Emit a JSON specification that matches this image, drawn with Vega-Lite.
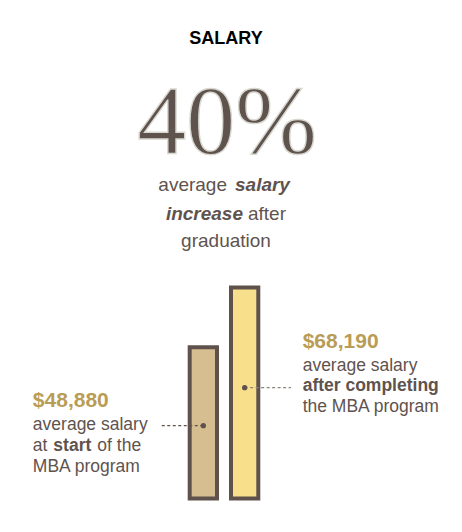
{
  "$schema": "https://vega.github.io/schema/vega-lite/v6.json",
  "width": 456,
  "height": 531,
  "autosize": {"type": "none"},
  "padding": {"left": 6, "top": 1, "right": 0, "bottom": 0},
  "background": "#ffffff",
  "config": {
    "view": {"fill": "#d8d7d0", "stroke": null},
    "text": {"font": "Liberation Sans", "color": "#5f534e"}
  },
  "layer": [
    {
      "data": {"values": [
        {"stage": "Start of MBA", "salary": 48880},
        {"stage": "After MBA", "salary": 68190}
      ]},
      "encoding": {
        "x": {"field": "stage", "type": "nominal", "sort": ["Start of MBA", "After MBA"], "bandPosition": 0.5,
              "scale": {"range": [183.7, 252.3], "paddingInner": 0.339, "paddingOuter": 0}, "axis": null},
        "y": {"field": "salary", "type": "quantitative",
              "scale": {"domain": [-10820, 160693], "nice": false, "zero": false}, "axis": null}
      },
      "layer": [
        {
          "mark": {"type": "bar", "stroke": "#5f524d", "strokeWidth": 4},
          "encoding": {
            "x": {"field": "stage", "type": "nominal", "sort": ["Start of MBA", "After MBA"], "axis": null},
            "color": {"field": "stage", "type": "nominal",
                      "scale": {"domain": ["Start of MBA", "After MBA"], "range": ["#d6be90", "#f8df8b"]}, "legend": null}
          }
        },
        {
          "transform": [{"filter": "datum.stage === 'Start of MBA'"}],
          "layer": [
            {"mark": {"type": "rule", "strokeDash": [3, 2.5], "strokeWidth": 1.2, "color": "#5f524d", "xOffset": -41.6, "yOffset": 78.5},
             "encoding": {"x2": {"field": "stage", "bandPosition": 0.5}}},
            {"mark": {"type": "point", "filled": true, "size": 28, "color": "#5f524d", "opacity": 1, "yOffset": 78.5}},
            {"mark": {"type": "text", "align": "left", "baseline": "alphabetic", "dx": -170.5, "dy": 60, "fontSize": 21, "fontWeight": "bold", "color": "#b99c55"},
             "encoding": {"text": {"field": "salary", "type": "quantitative", "format": "$,"}}},
            {"mark": {"type": "text", "align": "left", "baseline": "alphabetic", "dx": -170.5, "dy": 83, "fontSize": 17.5, "text": "average salary"}},
            {"mark": {"type": "text", "align": "left", "baseline": "alphabetic", "dx": -170.5, "dy": 103.7, "fontSize": 17.5, "text": "at"}},
            {"mark": {"type": "text", "align": "left", "baseline": "alphabetic", "dx": -150, "dy": 103.7, "fontSize": 17.5, "fontWeight": "bold", "text": "start"}},
            {"mark": {"type": "text", "align": "left", "baseline": "alphabetic", "dx": -106, "dy": 103.7, "fontSize": 17.5, "text": "of the"}},
            {"mark": {"type": "text", "align": "left", "baseline": "alphabetic", "dx": -170.5, "dy": 124.4, "fontSize": 17.5, "text": "MBA program"}}
          ]
        },
        {
          "transform": [{"filter": "datum.stage === 'After MBA'"}],
          "layer": [
            {"mark": {"type": "rule", "strokeDash": [3, 2.5], "strokeWidth": 1.2, "color": "#8a827c", "x2Offset": 46.3, "yOffset": 100.3},
             "encoding": {"x2": {"field": "stage", "bandPosition": 0.5}}},
            {"mark": {"type": "point", "filled": true, "size": 28, "color": "#5f524d", "opacity": 1, "yOffset": 100.3}},
            {"mark": {"type": "text", "align": "left", "baseline": "alphabetic", "dx": 58, "dy": 60.3, "fontSize": 21, "fontWeight": "bold", "color": "#b99c55"},
             "encoding": {"text": {"field": "salary", "type": "quantitative", "format": "$,"}}},
            {"mark": {"type": "text", "align": "left", "baseline": "alphabetic", "dx": 58, "dy": 83.3, "fontSize": 17.5, "text": "average salary"}},
            {"mark": {"type": "text", "align": "left", "baseline": "alphabetic", "dx": 58, "dy": 103.6, "fontSize": 17.5, "fontWeight": "bold", "text": "after completing"}},
            {"mark": {"type": "text", "align": "left", "baseline": "alphabetic", "dx": 58, "dy": 124.3, "fontSize": 17.5, "text": "the MBA program"}}
          ]
        }
      ]
    },
    {
      "data": {"values": [{"metric": "average salary increase after graduation", "increase": 0.4}]},
      "layer": [
        {"mark": {"type": "text", "align": "center", "baseline": "alphabetic", "dx": -8, "dy": -222.5, "font": "Liberation Sans", "fontSize": 18, "fontWeight": "bold", "color": "#000000", "text": "SALARY"}, "encoding": {}},
        {"mark": {"type": "text", "align": "center", "baseline": "alphabetic", "dx": -7, "dy": -114, "font": "Liberation Serif", "fontSize": 98, "color": "#5f534e", "stroke": "#d8d7d0", "strokeWidth": 1.4},
         "encoding": {"text": {"field": "increase", "type": "quantitative", "format": ".0%"}}},
        {"mark": {"type": "text", "align": "right", "baseline": "alphabetic", "dx": -7, "dy": -76, "fontSize": 19, "text": "average"}, "encoding": {}},
        {"mark": {"type": "text", "align": "left", "baseline": "alphabetic", "dx": 1, "dy": -76, "fontSize": 19, "fontWeight": "bold", "fontStyle": "italic", "text": "salary"}, "encoding": {}},
        {"mark": {"type": "text", "align": "right", "baseline": "alphabetic", "dx": 9, "dy": -47, "fontSize": 19, "fontWeight": "bold", "fontStyle": "italic", "text": "increase"}, "encoding": {}},
        {"mark": {"type": "text", "align": "left", "baseline": "alphabetic", "dx": 14, "dy": -47, "fontSize": 19, "text": "after"}, "encoding": {}},
        {"mark": {"type": "text", "align": "center", "baseline": "alphabetic", "dx": -8, "dy": -20, "fontSize": 19, "text": "graduation"}, "encoding": {}}
      ]
    }
  ]
}
